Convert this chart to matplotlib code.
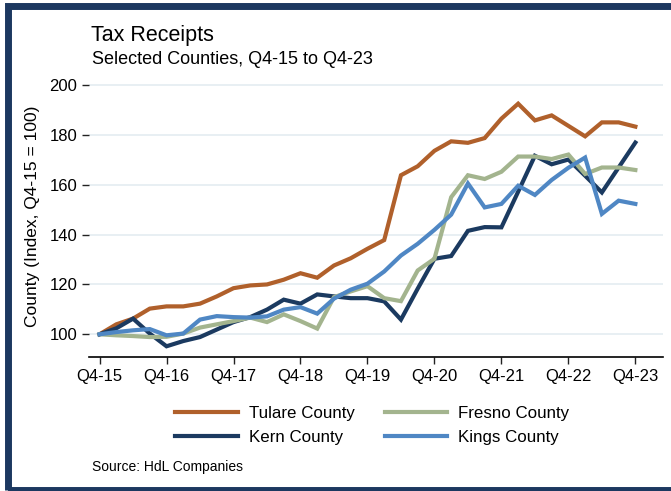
import numpy as np
import matplotlib.pyplot as plt
from matplotlib.patches import Rectangle

plt.rcParams['font.family'] = ['Liberation Sans', 'DejaVu Sans']

# quarters Q4-15 .. Q4-23 (33 points)
quarters = ['Q4-15', 'Q1-16', 'Q2-16', 'Q3-16', 'Q4-16', 'Q1-17', 'Q2-17', 'Q3-17',
            'Q4-17', 'Q1-18', 'Q2-18', 'Q3-18', 'Q4-18', 'Q1-19', 'Q2-19', 'Q3-19',
            'Q4-19', 'Q1-20', 'Q2-20', 'Q3-20', 'Q4-20', 'Q1-21', 'Q2-21', 'Q3-21',
            'Q4-21', 'Q1-22', 'Q2-22', 'Q3-22', 'Q4-22', 'Q1-23', 'Q2-23', 'Q3-23',
            'Q4-23']
tick_labels = ['Q4-15', 'Q4-16', 'Q4-17', 'Q4-18', 'Q4-19', 'Q4-20', 'Q4-21', 'Q4-22', 'Q4-23']

tulare = [100, 104, 106.3, 110.3, 111.2, 111.2, 112.3, 115.2, 118.5, 119.6, 120, 121.9,
          124.5, 122.7, 127.6, 130.5, 134.3, 137.8, 163.8, 167.4, 173.6, 177.4, 176.8,
          178.7, 186.5, 192.5, 185.8, 187.8, 183.6, 179.4, 185, 185, 183.3]
kern = [100, 102.4, 106.3, 100.3, 95.2, 97.3, 98.9, 101.9, 104.9, 106.9, 109.9, 113.9,
        112.3, 116, 115.2, 114.5, 114.5, 113.2, 105.9, 118.3, 130.3, 131.4, 141.5, 143,
        142.9, 157.2, 171.6, 168.2, 170.1, 163.6, 156.9, 166.9, 176.9]
fresno = [100, 99.6, 99.3, 98.9, 99, 100.3, 102.7, 104, 105.3, 106.7, 104.9, 108,
          105.3, 102.3, 114.9, 117.2, 119.3, 114.5, 113.3, 125.6, 130.3, 155, 163.8, 162.3,
          165.2, 171.3, 171.3, 170.3, 172.1, 164.3, 166.9, 166.9, 165.9]
kings = [100, 100.9, 101.6, 102.1, 99.6, 100.3, 105.9, 107.3, 106.9, 106.7, 107.2, 109.9,
         110.9, 108.3, 114.3, 117.9, 120.3, 125.2, 131.6, 136.3, 141.9, 148, 160.5, 150.9,
         152.3, 159.6, 155.9, 161.9, 166.8, 170.9, 148.3, 153.6, 152.3]

names = ['Tulare County', 'Kern County', 'Fresno County', 'Kings County']
colors = ['#b0602b', '#1b3a60', '#a3b48e', '#4f87c4']

W, H = 671, 491
fig = plt.figure(figsize=(W / 100, H / 100), dpi=100)
ax = fig.add_axes([89 / W, 1 - 357 / H, (663 - 89) / W, (357 - 80) / H])

x = np.arange(len(quarters))
handles = []
for vals, name, c in zip([tulare, kern, fresno, kings], names, colors):
    h, = ax.plot(x, vals, color=c, lw=3, label=name, solid_joinstyle='miter')
    handles.append(h)

ax.set_xlim(-0.63, 33.65)
ax.set_ylim(90.9, 202)
ax.set_xticks(np.arange(0, 33, 4))
ax.set_xticklabels(tick_labels)
ax.set_yticks(np.arange(100, 201, 20))
ax.tick_params(axis='both', labelsize=12, length=5, width=1, color='#222222', pad=3.5)
ax.grid(axis='y', color='#e6eef2', lw=1.3)
ax.set_axisbelow(True)
for s in ['left', 'top', 'right']:
    ax.spines[s].set_visible(False)
ax.spines['bottom'].set_linewidth(1.2)

fig.text(33 / W, 1 - 216 / H, 'County (Index, Q4-15 = 100)', rotation=90,
         ha='center', va='center', fontsize=12.5)
fig.text(91 / W, 1 - 41 / H, 'Tax Receipts', fontsize=15.5, va='baseline')
fig.text(92 / W, 1 - 64.3 / H, 'Selected Counties, Q4-15 to Q4-23', fontsize=13, va='baseline')
fig.text(92 / W, 1 - 471 / H, 'Source: HdL Companies', fontsize=10, va='baseline')

fig.legend(handles=handles, labels=names, ncol=2, loc='center',
           bbox_to_anchor=(372.5 / W, 1 - 425.5 / H), frameon=False, fontsize=12.2,
           handlelength=3.7, handletextpad=0.65, columnspacing=1.75, labelspacing=0.5)

# navy frame around the figure (right edge falls off the canvas)
fig.add_artist(Rectangle((7.5 / W, 1 - 490 / H), 2, (490 - 6) / H, transform=fig.transFigure,
                         fill=False, ec='#1c3860', lw=5))

fig.savefig('out.png', dpi=100)
